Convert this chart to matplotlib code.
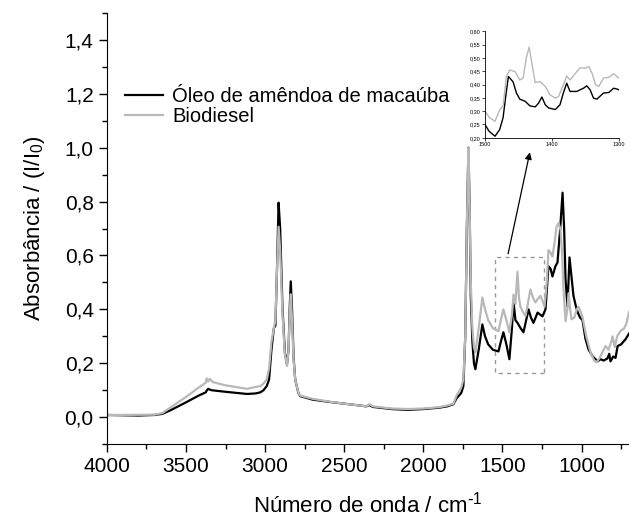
import matplotlib
matplotlib.use("Agg")
import matplotlib.pyplot as plt
from matplotlib.patches import Rectangle
from matplotlib.ticker import MultipleLocator, FuncFormatter

plt.rcParams['font.family'] = ['Liberation Sans', 'DejaVu Sans']
plt.rcParams['mathtext.default'] = 'regular'

# Espectro completo - óleo de amêndoa de macaúba (preto)
wn_oleo = [4000, 3800, 3700, 3650, 3600, 3500, 3420, 3375, 3370, 3360, 3340, 3250, 3114, 3060,
           3030, 3010, 2990, 2975, 2960, 2945, 2935, 2925, 2915, 2905, 2890, 2875, 2862, 2852,
           2845, 2838, 2830, 2820, 2810, 2790, 2778, 2700, 2600, 2500, 2400, 2360, 2340, 2320,
           2200, 2100, 2000, 1900, 1850, 1810, 1790, 1760, 1747, 1735, 1725, 1715, 1708, 1700,
           1690, 1680, 1671, 1650, 1627, 1610, 1590, 1560, 1525, 1510, 1494, 1475, 1456, 1440,
           1430, 1418, 1405, 1385, 1367, 1350, 1335, 1320, 1304, 1290, 1278, 1260, 1247, 1228,
           1209, 1195, 1184, 1165, 1152, 1135, 1120, 1110, 1101, 1089, 1076, 1065, 1051, 1035,
           1025, 1010, 994, 975, 955, 930, 899, 880, 860, 836, 825, 817, 800, 785, 772, 750,
           722, 700]
abs_oleo = [0.008, 0.006, 0.008, 0.012, 0.025, 0.055, 0.080, 0.092, 0.098, 0.105, 0.100, 0.094,
            0.086, 0.088, 0.092, 0.100, 0.115, 0.140, 0.250, 0.330, 0.340, 0.550, 0.796, 0.700,
            0.400, 0.240, 0.195, 0.250, 0.400, 0.504, 0.400, 0.220, 0.140, 0.090, 0.078, 0.065,
            0.057, 0.050, 0.043, 0.040, 0.045, 0.038, 0.030, 0.027, 0.030, 0.035, 0.040, 0.048,
            0.070, 0.090, 0.115, 0.300, 0.700, 1.000, 0.800, 0.450, 0.280, 0.200, 0.178, 0.250,
            0.344, 0.300, 0.270, 0.250, 0.244, 0.280, 0.315, 0.270, 0.215, 0.330, 0.430, 0.360,
            0.350, 0.330, 0.315, 0.360, 0.400, 0.370, 0.350, 0.370, 0.388, 0.380, 0.374, 0.400,
            0.560, 0.550, 0.522, 0.560, 0.574, 0.700, 0.833, 0.700, 0.510, 0.410, 0.593, 0.530,
            0.450, 0.410, 0.390, 0.370, 0.360, 0.290, 0.250, 0.226, 0.207, 0.215, 0.210, 0.218,
            0.235, 0.207, 0.225, 0.220, 0.264, 0.270, 0.289, 0.310]

# Espectro completo - biodiesel (cinza)
wn_bio = [4000, 3700, 3650, 3600, 3500, 3420, 3375, 3370, 3360, 3350, 3330, 3250, 3114, 3060,
          3030, 3010, 2990, 2975, 2960, 2945, 2935, 2925, 2915, 2905, 2890, 2875, 2862, 2852,
          2845, 2838, 2830, 2820, 2810, 2790, 2778, 2700, 2600, 2500, 2400, 2360, 2340, 2320,
          2200, 2100, 2000, 1900, 1850, 1810, 1790, 1760, 1747, 1735, 1725, 1715, 1708, 1700,
          1690, 1680, 1671, 1650, 1627, 1610, 1590, 1560, 1525, 1510, 1494, 1475, 1456, 1440,
          1430, 1418, 1405, 1395, 1386, 1370, 1354, 1340, 1323, 1305, 1291, 1275, 1260, 1245,
          1234, 1220, 1209, 1195, 1184, 1170, 1158, 1145, 1133, 1122, 1114, 1101, 1090, 1082,
          1072, 1063, 1045, 1030, 1019, 1005, 994, 970, 943, 920, 905, 885, 865, 848, 830, 812,
          804, 790, 775, 753, 730, 715, 700]
abs_bio = [0.008, 0.009, 0.015, 0.035, 0.075, 0.110, 0.128, 0.144, 0.132, 0.142, 0.130, 0.118,
           0.105, 0.112, 0.115, 0.125, 0.140, 0.180, 0.280, 0.330, 0.360, 0.550, 0.707, 0.620,
           0.380, 0.230, 0.190, 0.250, 0.380, 0.456, 0.360, 0.210, 0.140, 0.090, 0.080, 0.068,
           0.058, 0.050, 0.043, 0.040, 0.048, 0.040, 0.032, 0.030, 0.032, 0.037, 0.043, 0.050,
           0.080, 0.110, 0.140, 0.300, 0.700, 1.000, 0.800, 0.500, 0.330, 0.260, 0.240, 0.330,
           0.444, 0.400, 0.360, 0.330, 0.319, 0.360, 0.400, 0.360, 0.315, 0.380, 0.455, 0.420,
           0.540, 0.440, 0.410, 0.390, 0.375, 0.420, 0.474, 0.440, 0.426, 0.440, 0.450, 0.430,
           0.410, 0.500, 0.620, 0.610, 0.596, 0.650, 0.707, 0.720, 0.696, 0.600, 0.474, 0.356,
           0.400, 0.460, 0.400, 0.363, 0.370, 0.400, 0.410, 0.390, 0.370, 0.300, 0.240, 0.210,
           0.204, 0.220, 0.245, 0.264, 0.250, 0.280, 0.300, 0.260, 0.300, 0.320, 0.330, 0.350,
           0.390]

# Detalhe (inset) 1500-1300 cm-1
wn_ins_oleo = [1500, 1494, 1485, 1478, 1473, 1469, 1465, 1458, 1453, 1448, 1440, 1433, 1425, 1420,
               1415, 1410, 1405, 1395, 1388, 1383, 1378, 1373, 1363, 1353, 1348, 1343, 1338, 1333,
               1323, 1315, 1308, 1303, 1300]
abs_ins_oleo = [0.250, 0.225, 0.206, 0.231, 0.275, 0.355, 0.430, 0.410, 0.368, 0.345, 0.337, 0.320,
                0.316, 0.330, 0.353, 0.324, 0.312, 0.306, 0.324, 0.368, 0.405, 0.374, 0.374, 0.386,
                0.395, 0.380, 0.349, 0.345, 0.368, 0.370, 0.386, 0.383, 0.380]
wn_ins_bio = [1500, 1493, 1485, 1478, 1473, 1468, 1463, 1455, 1448, 1443, 1438, 1434, 1430, 1425,
              1418, 1410, 1403, 1395, 1390, 1383, 1378, 1373, 1365, 1358, 1350, 1345, 1340, 1335,
              1330, 1323, 1315, 1308, 1303, 1300]
abs_ins_bio = [0.300, 0.275, 0.262, 0.305, 0.320, 0.430, 0.455, 0.448, 0.417, 0.424, 0.504, 0.540,
               0.480, 0.407, 0.411, 0.393, 0.361, 0.349, 0.355, 0.399, 0.432, 0.417, 0.442, 0.463,
               0.461, 0.467, 0.442, 0.399, 0.393, 0.424, 0.427, 0.440, 0.430, 0.424]

GREY = '#b8b8b8'
comma = FuncFormatter(lambda v, p: ('%.1f' % v).replace('.', ','))

fig = plt.figure(figsize=(6.29, 5.2), dpi=100)
ax = fig.add_axes([0.170, 0.146, 0.830, 0.829])

ax.plot(wn_oleo, abs_oleo, color='black', lw=1.6, label='Óleo de amêndoa de macaúba')
ax.plot(wn_bio, abs_bio, color=GREY, lw=1.6, label='Biodiesel')

ax.set_xlim(4000, 700)
ax.set_ylim(-0.1, 1.5)
ax.xaxis.set_major_locator(MultipleLocator(500))
ax.xaxis.set_minor_locator(MultipleLocator(250))
ax.yaxis.set_major_locator(MultipleLocator(0.2))
ax.yaxis.set_minor_locator(MultipleLocator(0.1))
ax.yaxis.set_major_formatter(comma)
for s in ['top', 'right']:
    ax.spines[s].set_visible(False)
ax.tick_params(which='major', direction='out', length=6, width=1, labelsize=15)
ax.tick_params(which='minor', direction='out', length=3.5, width=1)
ax.set_xlabel('Número de onda / cm$^{\\text{-}1}$', fontsize=16)
ax.set_ylabel('Absorbância / (I/I$_0$)', fontsize=16)
ax.xaxis.set_label_coords(0.5, -0.11)
ax.yaxis.set_label_coords(-0.114, 0.5)

ax.legend(loc='upper left', bbox_to_anchor=(0.034, 0.828), frameon=False, fontsize=14.5,
          handlelength=1.9, handletextpad=0.45, labelspacing=0.05, borderaxespad=0,
          borderpad=0)

# caixa tracejada e seta para o detalhe
ax.add_patch(Rectangle((1235, 0.165), 310, 0.43, fill=False, ls=(0, (3, 3)),
                       ec='#999999', lw=1))
ax.annotate('', xy=(1323, 0.993), xytext=(1468, 0.596),
            arrowprops=dict(arrowstyle='-|>', color='black', lw=0.9, mutation_scale=10))

# inset
axi = fig.add_axes([0.771, 0.735, 0.213, 0.205])
axi.plot(wn_ins_oleo, abs_ins_oleo, color='black', lw=1.0)
axi.plot(wn_ins_bio, abs_ins_bio, color=GREY, lw=1.0)
axi.set_xlim(1500, 1300)
axi.set_ylim(0.20, 0.60)
axi.set_xticks([1500, 1400, 1300])
axi.yaxis.set_major_locator(MultipleLocator(0.05))
axi.yaxis.set_major_formatter(FuncFormatter(lambda v, p: ('%.2f' % v).replace('.', ',')))
for s in ['top', 'right']:
    axi.spines[s].set_visible(False)
axi.spines['left'].set_linewidth(0.6)
axi.spines['bottom'].set_linewidth(0.6)
axi.tick_params(direction='out', length=2, width=0.5, labelsize=4, pad=1)

fig.savefig('out.png', dpi=100)
